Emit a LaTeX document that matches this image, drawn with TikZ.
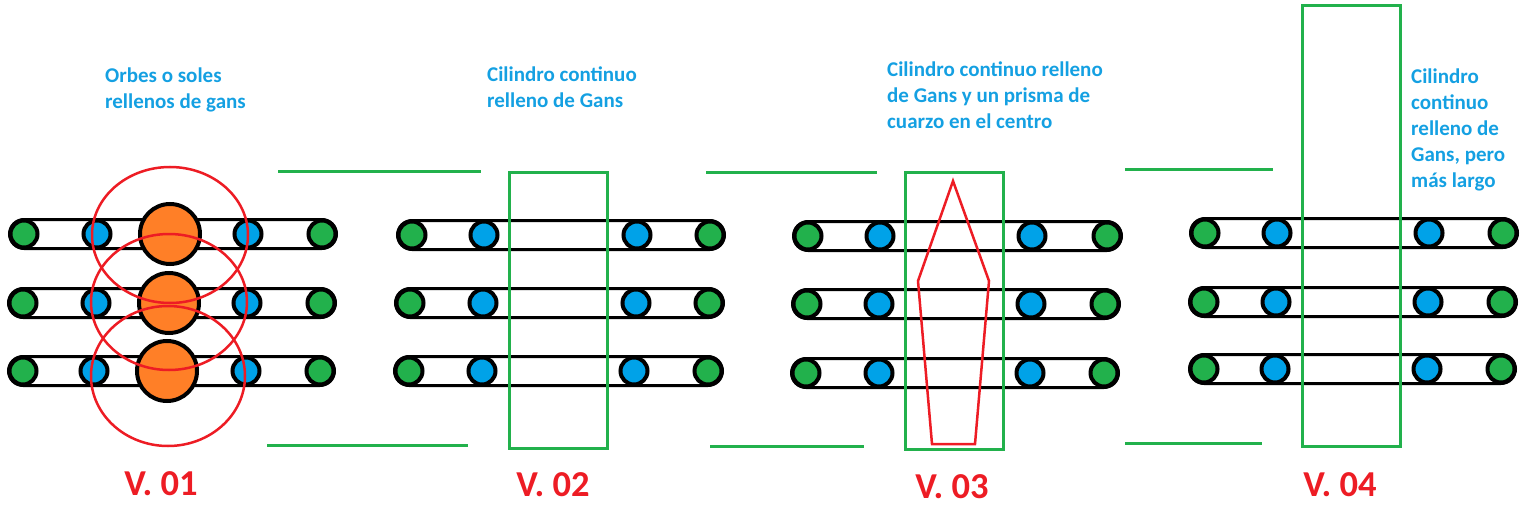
\documentclass[tikz,border=0pt]{standalone}
\usepackage{fontspec}
\setmainfont{Carlito}
\usetikzlibrary{calc}
\definecolor{pgreen}{RGB}{34,177,76}
\definecolor{pblue}{RGB}{0,162,232}
\definecolor{porange}{RGB}{255,127,39}
\definecolor{pred}{RGB}{237,28,36}
\definecolor{tblue}{RGB}{20,160,226}
\tikzset{
  bar/.style={draw=black, line width=3pt, rounded corners=14.5pt},
  gdot/.style={circle, draw=black, fill=pgreen, line width=4pt, minimum size=27pt, inner sep=0pt},
  bdot/.style={circle, draw=black, fill=pblue, line width=4pt, minimum size=27pt, inner sep=0pt},
  odot/.style={circle, draw=black, fill=porange, line width=4pt, minimum size=60pt, inner sep=0pt},
  grect/.style={draw=pgreen, line width=3pt},
  gline/.style={draw=pgreen, line width=3pt},
  redline/.style={draw=pred, line width=2.5pt},
  note/.style={anchor=base west, inner sep=0pt, align=left, text=tblue,
    font=\fontsize{21pt}{26pt}\selectfont\bfseries},
  vlab/.style={inner sep=0pt, text=pred, font=\fontsize{36.5pt}{40pt}\selectfont\bfseries}
}
\newcommand\mkrow[6]{%
  \coordinate (#1a) at (#3,#2);
  \coordinate (#1b) at (#6,#2);
  \draw[bar] ($(#1a)+(-14.5,-14.5)$) rectangle ($(#1b)+(14.5,14.5)$);
  \node[gdot] (#1gl) at (#1a) {};
  \node[bdot] (#1bl) at (#4,#2) {};
  \node[bdot] (#1br) at (#5,#2) {};
  \node[gdot] (#1gr) at (#1b) {};
}
\begin{document}
\begin{tikzpicture}[x=1pt,y=-1pt]
\useasboundingbox (0,0) rectangle (1531,508);

% ---------- V.01 ----------
\mkrow{ar1}{234}{24}{97}{248}{322}
\mkrow{ar2}{303}{23}{96}{247}{321}
\mkrow{ar3}{371}{23}{94}{246}{320}
\node[odot] (o1) at (170,234) {};
\node[odot] (o2) at (169,303) {};
\node[odot] (o3) at (167,371) {};
\draw[redline] (170,235) ellipse [x radius=78, y radius=68];
\draw[redline] (169,302) ellipse [x radius=78, y radius=68];
\draw[redline] (168,376) ellipse [x radius=77, y radius=70];

% ---------- V.02 ----------
\mkrow{br1}{235}{412}{484}{637}{710}
\mkrow{br2}{303}{410}{483}{636}{709}
\mkrow{br3}{371}{409}{482}{634}{708}
\draw[grect] (509,172) rectangle (607,448);

% ---------- V.03 ----------
\mkrow{cr1}{236}{808}{880}{1032}{1107}
\mkrow{cr2}{304}{807}{879}{1031}{1105}
\mkrow{cr3}{373}{806}{879}{1030}{1104}
\draw[grect] (905,172) rectangle (1003,449);
\draw[redline, line join=miter] (953,181) -- (989,281) -- (975,444) -- (932,444) -- (918,281) -- cycle;

% ---------- V.04 ----------
\mkrow{dr1}{233}{1205}{1277}{1429}{1503}
\mkrow{dr2}{302}{1204}{1276}{1428}{1502}
\mkrow{dr3}{369}{1204}{1275}{1427}{1501}
\draw[grect] (1302,6) rectangle (1400,446);

% ---------- separating green lines ----------
\coordinate (l1a) at (278,171); \coordinate (l1b) at (481,171);
\coordinate (l2a) at (267,445); \coordinate (l2b) at (468,445);
\coordinate (l3a) at (706,172); \coordinate (l3b) at (877,172);
\coordinate (l4a) at (710,446); \coordinate (l4b) at (864,446);
\coordinate (l5a) at (1125,169); \coordinate (l5b) at (1273,169);
\coordinate (l6a) at (1125,443); \coordinate (l6b) at (1262,443);
\draw[gline] (l1a) -- (l1b);
\draw[gline] (l2a) -- (l2b);
\draw[gline] (l3a) -- (l3b);
\draw[gline] (l4a) -- (l4b);
\draw[gline] (l5a) -- (l5b);
\draw[gline] (l6a) -- (l6b);

% ---------- texts (anchored at the baseline of the last line) ----------
\node[note] (t1) at (105,109) {Orbes o soles\\rellenos de gans};
\node[note] (t2) at (487,108) {Cilindro continuo\\relleno de Gans};
\node[note] (t3) at (887,129) {Cilindro continuo relleno\\de Gans y un prisma de\\cuarzo en el centro};
\node[note] (t4) at (1411,187) {Cilindro\\continuo\\relleno de\\Gans, pero\\más largo};

\node[vlab] (v1) at (161,484) {V. 01};
\node[vlab] (v2) at (553,485) {V. 02};
\node[vlab] (v3) at (952,487) {V. 03};
\node[vlab] (v4) at (1340,485) {V. 04};
\end{tikzpicture}
\end{document}
